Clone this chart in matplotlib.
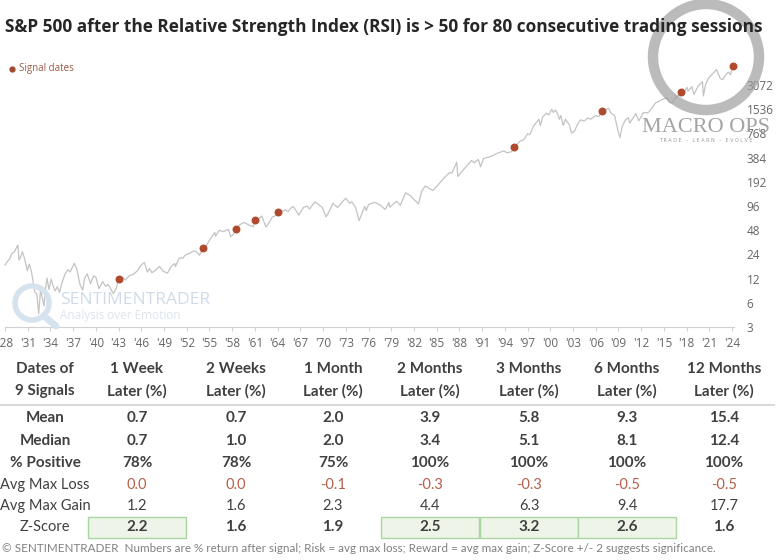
import numpy as np
import matplotlib.pyplot as plt
from matplotlib.patches import Rectangle, Circle

# S&P 500 level (log scale)
years = [1928.0, 1928.3, 1928.6, 1928.9, 1929.2, 1929.5, 1929.7, 1929.85, 1930.0, 1930.3,
         1930.6, 1930.95, 1931.2, 1931.5, 1931.75, 1931.95, 1932.2, 1932.45, 1932.7, 1932.9,
         1933.15, 1933.35, 1933.55, 1933.8, 1934.1, 1934.35, 1934.6, 1934.9, 1935.2, 1935.5,
         1935.9, 1936.3, 1936.6, 1937.15, 1937.5, 1937.9, 1938.25, 1938.5, 1938.85, 1939.3,
         1939.7, 1940.0, 1940.4, 1940.9, 1941.3, 1941.6, 1942.0, 1942.3, 1942.7, 1943.0,
         1943.5, 1943.9, 1944.4, 1944.9, 1945.5, 1945.95, 1946.4, 1946.8, 1947.1, 1947.4,
         1947.9, 1948.4, 1948.9, 1949.45, 1949.9, 1950.4, 1950.5, 1951.0, 1951.5, 1951.8,
         1952.5, 1952.9, 1953.2, 1953.7, 1954.1, 1954.6, 1955.0, 1955.5, 1955.7, 1955.8,
         1956.3, 1956.8, 1957.5, 1957.8, 1958.2, 1958.5, 1959.0, 1959.6, 1960.2, 1960.8,
         1961.0, 1961.5, 1961.9, 1962.45, 1962.8, 1963.3, 1963.9, 1964.1, 1964.6, 1965.0,
         1965.4, 1965.8, 1966.1, 1966.8, 1967.4, 1967.9, 1968.2, 1968.9, 1969.4, 1969.9,
         1970.4, 1970.9, 1971.3, 1971.9, 1972.5, 1973.0, 1973.5, 1973.8, 1974.3, 1974.75,
         1975.0, 1975.5, 1975.7, 1976.0, 1976.8, 1977.5, 1978.2, 1978.7, 1978.8, 1979.7,
         1980.2, 1980.9, 1981.5, 1982.0, 1982.6, 1983.0, 1983.5, 1984.5, 1985.0, 1985.9,
         1986.7, 1987.0, 1987.65, 1987.8, 1988.5, 1989.6, 1990.0, 1990.5, 1990.8, 1991.2,
         1991.9, 1992.5, 1993.0, 1993.9, 1994.3, 1994.9, 1995.25, 1995.6, 1996.0, 1996.5,
         1997.0, 1997.3, 1997.8, 1998.5, 1998.7, 1999.0, 1999.5, 1999.8, 2000.2, 2000.4,
         2000.7, 2001.0, 2001.2, 2001.4, 2001.7, 2002.0, 2002.5, 2002.8, 2003.2, 2003.6,
         2004.0, 2004.5, 2005.0, 2005.3, 2006.0, 2006.4, 2006.8, 2007.1, 2007.4, 2007.7,
         2008.0, 2008.5, 2008.9, 2009.2, 2009.5, 2009.9, 2010.3, 2010.5, 2011.3, 2011.7,
         2012.3, 2012.9, 2013.5, 2013.9, 2014.5, 2014.9, 2015.4, 2015.7, 2016.1, 2016.5,
         2016.9, 2017.3, 2017.8, 2018.05, 2018.2, 2018.7, 2018.98, 2019.5, 2019.9, 2020.1,
         2020.22, 2020.5, 2020.9, 2021.5, 2021.95, 2022.45, 2022.8, 2023.0, 2023.5, 2023.8,
         2024.0, 2024.15]
spx = [17.7, 19.5, 21.0, 24.5, 25.5, 29.0, 31.4, 20.4, 21.5, 25.9,
       21.0, 15.0, 18.2, 14.5, 10.5, 8.1, 7.8, 4.4, 8.9, 7.0,
       5.5, 9.0, 12.2, 8.8, 11.8, 9.8, 8.4, 9.5, 8.1, 10.5,
       13.5, 15.5, 14.5, 18.6, 15.5, 10.2, 8.6, 12.0, 13.8, 10.4,
       13.0, 12.5, 9.0, 11.0, 9.6, 10.2, 8.8, 7.8, 9.2, 11.8,
       12.4, 11.6, 13.0, 13.5, 15.0, 17.5, 19.1, 14.5, 16.0, 14.2,
       15.3, 17.0, 14.8, 14.0, 16.8, 18.5, 17.0, 21.6, 21.5, 23.5,
       25.0, 26.5, 26.2, 23.5, 28.6, 31.0, 36.0, 42.0, 45.0, 40.5,
       48.0, 46.0, 49.0, 40.0, 43.0, 49.3, 56.0, 60.0, 55.5, 53.0,
       64.8, 66.0, 72.0, 52.5, 58.0, 70.0, 74.0, 80.8, 83.0, 86.0,
       82.0, 92.0, 94.0, 74.0, 92.0, 96.0, 88.0, 108.0, 100.0, 92.0,
       70.0, 86.0, 104.0, 92.0, 107.0, 120.0, 104.0, 108.0, 92.0, 63.0,
       72.0, 95.0, 84.0, 100.0, 107.0, 99.0, 87.0, 106.0, 93.0, 110.0,
       98.0, 140.0, 130.0, 116.0, 102.0, 145.0, 170.0, 150.0, 167.0, 211.0,
       250.0, 245.0, 336.0, 224.0, 270.0, 353.0, 330.0, 365.0, 295.0, 375.0,
       390.0, 410.0, 435.0, 466.0, 440.0, 455.0, 525.0, 560.0, 615.0, 640.0,
       760.0, 740.0, 950.0, 1150.0, 960.0, 1230.0, 1370.0, 1300.0, 1536.0, 1400.0,
       1500.0, 1330.0, 1150.0, 1280.0, 965.0, 1150.0, 990.0, 776.0, 820.0, 1000.0,
       1130.0, 1100.0, 1200.0, 1150.0, 1280.0, 1240.0, 1440.0, 1420.0, 1530.0, 1575.0,
       1380.0, 1280.0, 860.0, 680.0, 940.0, 1115.0, 1210.0, 1030.0, 1360.0, 1100.0,
       1400.0, 1380.0, 1620.0, 1840.0, 1960.0, 2060.0, 2130.0, 1870.0, 1830.0, 2100.0,
       2270.0, 2515.0, 2600.0, 2870.0, 2580.0, 2930.0, 2350.0, 2950.0, 3230.0, 3380.0,
       2240.0, 3100.0, 3750.0, 4300.0, 4790.0, 3700.0, 3580.0, 3900.0, 4450.0, 4120.0,
       4900.0, 5290.0]

signal_years = [1943.0, 1954.1, 1958.5, 1961.0, 1964.1, 1995.25, 2006.8, 2017.3, 2024.15]
signal_vals = [11.8, 28.6, 49.3, 64.8, 80.8, 525.0, 1440.0, 2515.0, 5290.0]

y_ticks = [3, 6, 12, 24, 48, 96, 192, 384, 768, 1536, 3072]
x_ticks = list(range(1928, 2025, 3))

col_heads = [("Dates of", "9 Signals"), ("1 Week", "Later (%)"), ("2 Weeks", "Later (%)"),
             ("1 Month", "Later (%)"), ("2 Months", "Later (%)"), ("3 Months", "Later (%)"),
             ("6 Months", "Later (%)"), ("12 Months", "Later (%)")]
row_labels = ["Mean", "Median", "% Positive", "Avg Max Loss", "Avg Max Gain", "Z-Score"]
mean = ["0.7", "0.7", "2.0", "3.9", "5.8", "9.3", "15.4"]
median = ["0.7", "1.0", "2.0", "3.4", "5.1", "8.1", "12.4"]
pct_pos = ["78%", "78%", "75%", "100%", "100%", "100%", "100%"]
max_loss = ["0.0", "0.0", "-0.1", "-0.3", "-0.3", "-0.5", "-0.5"]
max_gain = ["1.2", "1.6", "2.3", "4.4", "6.3", "9.4", "17.7"]
zscore = ["2.2", "1.6", "1.9", "2.5", "3.2", "2.6", "1.6"]
z_hilite = [True, False, False, True, True, True, False]

W, H = 777, 560
fig = plt.figure(figsize=(W / 100, H / 100), dpi=100)

# chart area in pixels: x 1928 at 5px, y=3 at 327px
x0, x1 = 1928, 2024.3
left_px = 5
right_px = 5 + (x1 - x0) * 7.573
ax = fig.add_axes([left_px / W, (H - 327) / H, (right_px - left_px) / W, (327 - 44) / H])
ax.set_yscale("log")
ax.set_xlim(x0, x1)
ax.set_ylim(3, 9940)
ax.plot(years, spx, color="#c3c3c3", lw=0.9, zorder=2, clip_on=False)
ax.scatter(signal_years, signal_vals, s=22, color="#b04a2e", zorder=3, clip_on=False)

for s in ["top", "left", "right"]:
    ax.spines[s].set_visible(False)
ax.spines["bottom"].set_color("#d0d0d0")
ax.yaxis.tick_right()
ax.set_yticks(y_ticks)
ax.set_yticklabels([str(v) for v in y_ticks])
ax.yaxis.set_minor_locator(plt.NullLocator())
ax.tick_params(axis="y", length=0, pad=9, labelsize=8.5, labelcolor="#666666")
ax.set_xticks(x_ticks)
ax.set_xticklabels(["'%02d" % (y % 100) for y in x_ticks])
ax.tick_params(axis="x", length=3, color="#d0d0d0", labelsize=8.5, labelcolor="#666666", pad=4)
for lab in ax.get_xticklabels() + ax.get_yticklabels():
    lab.set_fontfamily("Open Sans")

# overlay in pixel coordinates
ov = fig.add_axes([0, 0, 1, 1], facecolor="none")
ov.set_xlim(0, W)
ov.set_ylim(H, 0)
ov.axis("off")

ov.text(5, 27, "S&P 500 after the Relative Strength Index (RSI) is > 50 for 80 consecutive trading sessions",
        fontsize=12.4, fontweight="bold", color="#262626", family="Open Sans", va="center", ha="left")
ov.plot([12], [69], "o", ms=3.5, color="#a0492e")
ov.text(19, 69, "Signal dates", fontsize=7, color="#9c5a44", family="Open Sans", va="center")

# watermarks
ov.add_patch(Circle((706, 57), 53, fill=False, lw=7.5, ec="#9e9e9e", alpha=0.7, zorder=1))
ov.text(706, 128, "MACRO OPS", fontsize=16, color="#9a9a9a", family="Liberation Serif",
        ha="center", va="center", alpha=0.9)
ov.text(706, 141, "T R A D E   -   L E A R N   -   E V O L V E", fontsize=3.5, color="#9a9a9a",
        ha="center", va="center")
ov.add_patch(Circle((32, 303), 17, fill=False, lw=4, ec="#d6e3ef", zorder=1))
ov.plot([44, 56], [316, 326], color="#d6e3ef", lw=5, solid_capstyle="round")
ov.text(60, 300, "SENTIMENTRADER", fontsize=12.5, color="#cfdbe8", family="Open Sans", va="center")
ov.text(60, 316, "Analysis over Emotion", fontsize=8.5, color="#dde5ee", family="Open Sans", va="center")

# table
cx = [45, 137, 236, 333, 430, 529, 627, 724]
dark = "#404040"
tfont = "Lato"
for i, (h1, h2) in enumerate(col_heads):
    ov.text(cx[i], 369, h1, fontsize=11, fontweight="bold", color=dark, family=tfont, ha="center", va="center")
    ov.text(cx[i], 391, h2, fontsize=11, fontweight="bold", color=dark, family=tfont, ha="center", va="center")
ov.plot([0, 774], [405, 405], color="#d9d9d9", lw=1.5)

row_y = [418, 441, 463, 485, 506, 527]
rows = [mean, median, pct_pos, max_loss, max_gain, zscore]
bold_label = [True, True, True, False, False, False]
bold_vals = [True, True, True, False, False, True]
colors = [dark, dark, dark, "#b5604a", dark, dark]

box_w = 98.5
for j, hl in enumerate(z_hilite):
    if hl:
        ov.add_patch(Rectangle((cx[j + 1] - box_w / 2, 517), box_w, 21, fc="#eef5e8", ec="#a9d6a0", lw=1, zorder=1))

for r, (lab, vals) in enumerate(zip(row_labels, rows)):
    ov.text(cx[0], row_y[r], lab, fontsize=11 if bold_label[r] else 10.5,
            fontweight="bold" if bold_label[r] else "normal", color=dark, family=tfont, ha="center", va="center")
    for j, v in enumerate(vals):
        ov.text(cx[j + 1], row_y[r], v, fontsize=11 if bold_vals[r] else 10.5,
                fontweight="bold" if bold_vals[r] else "normal", color=colors[r], family=tfont,
                ha="center", va="center", zorder=3)

ov.text(2, 548, "\u00a9 SENTIMENTRADER  Numbers are % return after signal; Risk = avg max loss; "
        "Reward = avg max gain; Z-Score +/- 2 suggests significance.",
        fontsize=8.4, color="#808080", family=tfont, va="center", ha="left")

fig.savefig("out.png", dpi=100)
